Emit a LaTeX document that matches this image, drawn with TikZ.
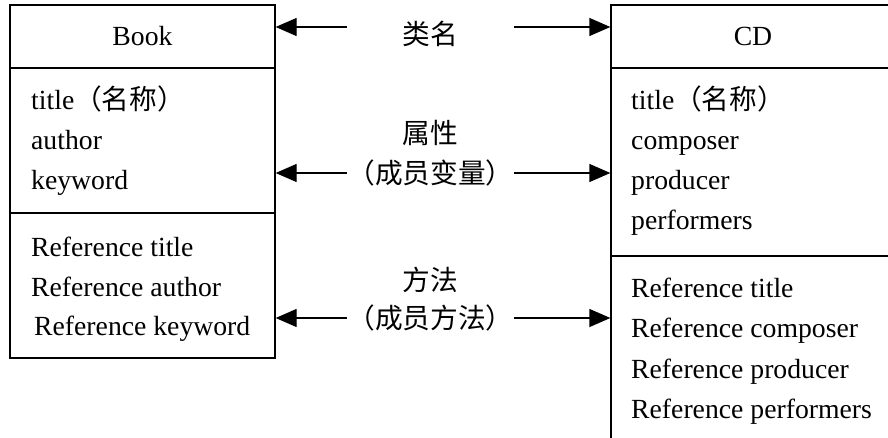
\documentclass[tikz,border=0pt]{standalone}
\usepackage{fontspec}
\setmainfont{Liberation Serif}
\newfontfamily\cjk{Noto Sans CJK SC}
\usepackage{tikz}
\usetikzlibrary{arrows.meta}

\newcommand{\textsz}{\fontsize{27.7pt}{32pt}\selectfont}

\tikzset{
  compartment/.style={draw, line width=1.3pt, inner sep=0pt},
  member/.style={anchor=base west, inner sep=0pt},
  caption/.style={minimum width=167pt, inner sep=0pt, font=\cjk\textsz},
  conn/.style={line width=1.3pt, -{Triangle[length=21pt,width=18pt]}},
}

\begin{document}
\begin{tikzpicture}[x=1pt, y=-1pt, font=\textsz]
  \clip (0,0) rectangle (888,438);
  % class Book
  \node[compartment, minimum width=265pt, minimum height=63pt] (bookname) at (142.5,36.5) {Book};
  \node[compartment, minimum width=265pt, minimum height=145pt] (bookattr) at (142.5,140.5) {};
  \node[compartment, minimum width=265pt, minimum height=145pt] (bookmeth) at (142.5,285.5) {};
  \node[member] (b-title) at (31,110) {title{\cjk（名称）}};
  \node[member] (b-author) at (31,150) {author};
  \node[member] (b-keyword) at (31,190) {keyword};
  \node[member] (b-rtitle) at (31,256) {Reference title};
  \node[member] (b-rauthor) at (31,296) {Reference author};
  \node[member] (b-rkeyword) at (34,335) {Reference keyword};
  % class CD
  \node[compartment, minimum width=284pt, minimum height=63pt] (cdname) at (753,36.5) {CD};
  \node[compartment, minimum width=284pt, minimum height=188pt] (cdattr) at (753,162) {};
  \node[compartment, minimum width=284pt, minimum height=214pt] (cdmeth) at (753,363) {};
  \node[member] (c-title) at (631,110) {title{\cjk（名称）}};
  \node[member] (c-composer) at (631,150) {composer};
  \node[member] (c-producer) at (631,190) {producer};
  \node[member] (c-performers) at (631,230) {performers};
  \node[member] (c-rtitle) at (631,297) {Reference title};
  \node[member] (c-rcomposer) at (631,337) {Reference composer};
  \node[member] (c-rproducer) at (631,378) {Reference producer};
  \node[member] (c-rperformers) at (631,418) {Reference performers};
  % captions
  \node[caption] (clsname) at (430.5,34) {类名};
  \node[caption] (attrname) at (430.5,133) {属性};
  \node[caption] (attrsub) at (430.5,173) {（成员变量）};
  \node[caption] (methname) at (430.5,280) {方法};
  \node[caption] (methsub) at (430.5,318) {（成员方法）};
  \draw[conn] ([yshift=7pt]clsname.west) -- ([yshift=7pt]clsname.west -| bookname.east);
  \draw[conn] ([yshift=7pt]clsname.east) -- ([yshift=7pt]clsname.east -| cdname.west);
  \draw[conn] (attrsub.west) -- (attrsub.west -| bookattr.east);
  \draw[conn] (attrsub.east) -- (attrsub.east -| cdattr.west);
  \draw[conn] (methsub.west) -- (methsub.west -| bookmeth.east);
  \draw[conn] (methsub.east) -- (methsub.east -| cdmeth.west);
\end{tikzpicture}
\end{document}
